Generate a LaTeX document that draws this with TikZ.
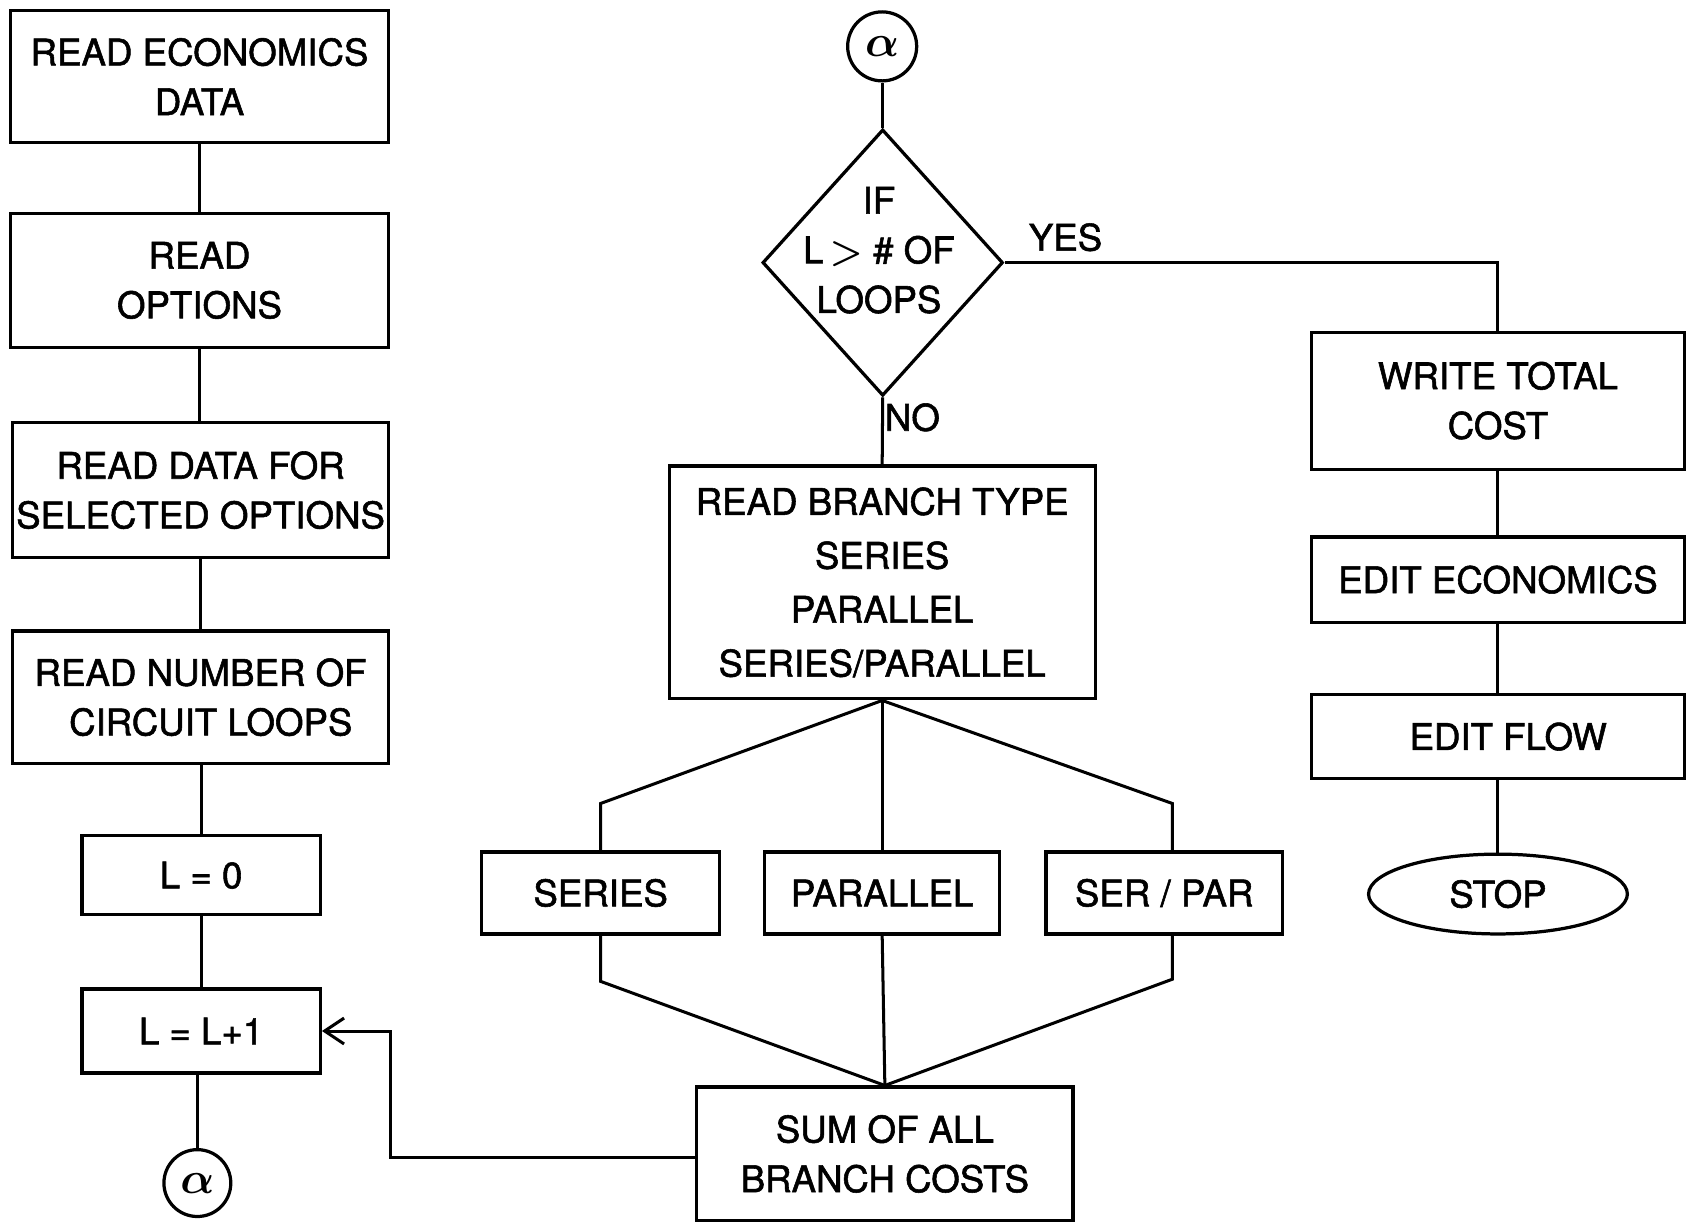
\documentclass[tikz,border=0pt]{standalone}
\usepackage{amsmath}
\usepackage{fontspec}
\setmainfont{TeX Gyre Heros}[FakeBold=1.5]
\usetikzlibrary{shapes.geometric,arrows.meta}
\tikzset{
  box/.style={draw, line width=1.5pt, rectangle, inner sep=0pt, align=center,
    font=\fontsize{17}{23}\selectfont},
  conn/.style={line width=1.4pt},
  lbl/.style={font=\fontsize{17}{23}\selectfont, inner sep=0pt, align=center},
  conncirc/.style={draw, line width=1.5pt, circle, inner sep=0pt, minimum size=31pt,
    font=\fontsize{22}{22}\selectfont},
}
\begin{document}
\begin{tikzpicture}[x=0.5pt,y=-0.5pt]
\useasboundingbox (0,0) rectangle (1568,1136);
\fill[white] (0,0) rectangle (1568,1136);

% left column
\node[box, minimum width=175pt, minimum height=61pt] (b1) at (185,71)
  {READ ECONOMICS\\DATA};
\node[box, minimum width=175pt, minimum height=62pt] (b2) at (185,260)
  {READ\\OPTIONS};
\node[box, minimum width=174.5pt, minimum height=62.5pt] (b3) at (186,454.5)
  {READ DATA FOR\\SELECTED OPTIONS};
\node[box, minimum width=174.5pt, minimum height=61.5pt] (b4) at (186,646.5)
  {READ NUMBER OF\\\ \ CIRCUIT LOOPS};
\node[box, minimum width=110.5pt, minimum height=36.5pt] (l0) at (186.5,811.5)
  {L = 0};
\node[box, minimum width=110.5pt, minimum height=39pt] (inc) at (186.5,956)
  {L = L+1};
\node[conncirc] (a1) at (183,1097) {$\boldsymbol{\alpha}$};

\draw[conn] (b1.south) -- (b1.south |- b2.north);
\draw[conn] (b2.south) -- (b2.south |- b3.north);
\draw[conn] (b3.south) -- (b3.south |- b4.north);
\draw[conn] (l0.north |- b4.south) -- (l0.north);
\draw[conn] (l0.south) -- (inc.north);
\draw[conn] (a1.north |- inc.south) -- (a1.north);

% centre column
\node[conncirc, minimum size=32pt] (a2) at (818,43) {$\boldsymbol{\alpha}$};
\node[draw, line width=1.5pt, diamond, inner sep=0pt,
  minimum width=111.5pt, minimum height=123.5pt] (dec) at (818.5,243.5) {};
\node[lbl] (dectxt) at (815,232) {IF\\L\,$\boldsymbol{>}$\ \#\ OF\\LOOPS};
\node[lbl] (yes) at (988,220) {YES};
\node[lbl] (no) at (846,387) {NO};

\node[box, minimum width=197.5pt, minimum height=108pt,
  font=\fontsize{17}{25}\selectfont] (branch) at (818,540)
  {READ BRANCH TYPE\\SERIES\\PARALLEL\\SERIES/PARALLEL};

\node[box, minimum width=110.5pt, minimum height=38pt] (ser) at (557,828) {SERIES};
\node[box, minimum width=109pt, minimum height=38pt] (par) at (818,828) {PARALLEL};
\node[box, minimum width=109.5pt, minimum height=38pt] (sp) at (1079.5,828) {SER / PAR};

\node[box, minimum width=174.5pt, minimum height=62pt] (sum) at (820.5,1070)
  {SUM OF ALL\\BRANCH COSTS};

\coordinate (kL) at (557,745);
\coordinate (kR) at (1087,745);
\coordinate (jL) at (557,910);
\coordinate (jR) at (1087,908);
\coordinate (fb) at (362,1073);

\draw[conn] (a2.south) -- (a2.south |- dec.north);
\draw[conn] (dec.south) -- (branch.north);
\draw[conn] (branch.south) -- (kL) -- (ser.north);
\draw[conn] (branch.south) -- (par.north);
\draw[conn] (branch.south) -- (kR) -- (kR |- sp.north);
\draw[conn] (ser.south) -- (jL) -- (sum.north);
\draw[conn] (par.south) -- (sum.north);
\draw[conn] (sp.south -| kR) -- (jR) -- (sum.north);
\draw[conn, -{Straight Barb[length=9pt,width=12pt,line width=1.4pt]}]
  (sum.west |- fb) -- (fb) |- (inc.east);

% right column
\node[box, minimum width=173pt, minimum height=63.5pt] (write) at (1389,371.5)
  {WRITE TOTAL\\COST};
\node[box, minimum width=173pt, minimum height=39.5pt] (ee) at (1389,537.5)
  {EDIT ECONOMICS};
\node[box, minimum width=173pt, minimum height=39pt] (ef) at (1389,683)
  {\ \ EDIT FLOW};
\node[draw, line width=1.5pt, ellipse, inner sep=0pt, minimum width=120pt,
  minimum height=37pt, font=\fontsize{17}{23}\selectfont] (stop) at (1389,829) {STOP};

\draw[conn] (dec.east) -| (write.north);
\draw[conn] (write.south) -- (ee.north);
\draw[conn] (ee.south) -- (ef.north);
\draw[conn] (ef.south) -- (stop.north);
\end{tikzpicture}
\end{document}
